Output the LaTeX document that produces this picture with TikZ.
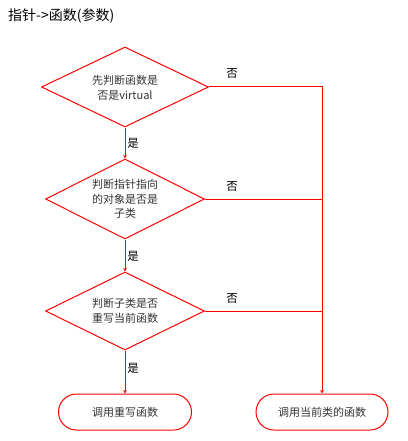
\documentclass[tikz,border=0pt]{standalone}
\usepackage{fontspec}
\setmainfont{Noto Sans CJK SC}
\usetikzlibrary{shapes.geometric,arrows.meta}
\definecolor{lred}{HTML}{FF0000}
\definecolor{txt}{HTML}{333333}
\begin{document}
\begin{tikzpicture}[x=1pt,y=-1pt,
  dec/.style={draw=lred,line width=1pt,diamond,inner sep=0pt},
  dtext/.style={align=center,text=txt,inner sep=0pt,font=\fontsize{11}{14.5}\selectfont},
  term/.style={draw=lred,line width=1pt,rectangle,rounded corners=18pt,minimum width=133pt,minimum height=36pt,inner sep=0pt,text=txt,font=\fontsize{11}{14}\selectfont},
  conn/.style={draw=lred,line width=1pt},
  arr/.style={conn,-{Stealth[length=3.5pt,width=3.5pt]}},
  lbl/.style={text=black,font=\fontsize{11.5}{13}\selectfont,inner sep=0pt}]
\useasboundingbox (0,0) rectangle (407,441);
\node[anchor=west,inner sep=0pt,font=\fontsize{14}{16}\selectfont] (title) at (8,16) {指针->函数(参数)};
\node[dec,minimum width=167pt,minimum height=80pt] (d1) at (125,87) {};
\node[dtext] (d1t) at (125,88) {先判断函数是\\否是virtual};
\node[dec,minimum width=159pt,minimum height=80pt] (d2) at (125,199) {};
\node[dtext] (d2t) at (125,199) {判断指针指向\\的对象是否是\\子类};
\node[dec,minimum width=159pt,minimum height=78pt] (d3) at (125,311) {};
\node[dtext] (d3t) at (125,311) {判断子类是否\\重写当前函数};
\node[term] (t1) at (125,412) {调用重写函数};
\node[term,minimum width=132pt] (t2) at (322,412) {调用当前类的函数};
\draw[arr] (d1.south) -- (d2.north);
\draw[arr] (d2.south) -- (d3.north);
\draw[arr] (d3.south) -- (t1.north);
\draw[arr] (d1.east) -| (t2.north);
\draw[conn] (d2.east) -- (d2.east -| t2.north);
\draw[conn] (d3.east) -- (d3.east -| t2.north);
\node[lbl] (n1) at (232,73) {否};
\node[lbl] (n2) at (232,186) {否};
\node[lbl] (n3) at (232,298) {否};
\node[lbl] (y1) at (133,143) {是};
\node[lbl] (y2) at (133,256) {是};
\node[lbl] (y3) at (133,368) {是};
\end{tikzpicture}
\end{document}
